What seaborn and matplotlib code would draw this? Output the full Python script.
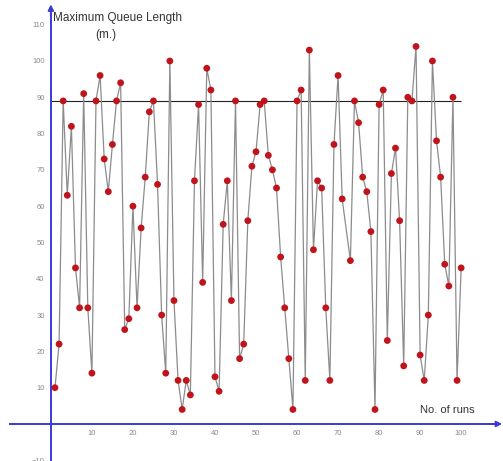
import matplotlib
matplotlib.use("Agg")
import matplotlib.pyplot as plt
import seaborn as sns

# run number (run 72 is not plotted in the source chart)
runs = [1, 2, 3, 4, 5, 6, 7, 8, 9, 10,
        11, 12, 13, 14, 15, 16, 17, 18, 19, 20,
        21, 22, 23, 24, 25, 26, 27, 28, 29, 30,
        31, 32, 33, 34, 35, 36, 37, 38, 39, 40,
        41, 42, 43, 44, 45, 46, 47, 48, 49, 50,
        51, 52, 53, 54, 55, 56, 57, 58, 59, 60,
        61, 62, 63, 64, 65, 66, 67, 68, 69, 70,
        71, 73, 74, 75, 76, 77, 78, 79, 80,
        81, 82, 83, 84, 85, 86, 87, 88, 89, 90,
        91, 92, 93, 94, 95, 96, 97, 98, 99, 100]

# maximum queue length (m.)
queue = [10, 22, 89, 63, 82, 43, 32, 91, 32, 14,
         89, 96, 73, 64, 77, 89, 94, 26, 29, 60,
         32, 54, 68, 86, 89, 66, 30, 14, 100, 34,
         12, 4, 12, 8, 67, 88, 39, 98, 92, 13,
         9, 55, 67, 34, 89, 18, 22, 56, 71, 75,
         88, 89, 74, 70, 65, 46, 32, 18, 4, 89,
         92, 12, 103, 48, 67, 65, 32, 12, 77, 96,
         62, 45, 89, 83, 68, 64, 53, 4, 88,
         92, 23, 69, 76, 56, 16, 90, 89, 104, 19,
         12, 30, 100, 78, 68, 44, 38, 90, 12, 43]

reference_level = 89
x_ticks = [10, 20, 30, 40, 50, 60, 70, 80, 90, 100]
y_ticks = [-10, 10, 20, 30, 40, 50, 60, 70, 80, 90, 100, 110]

sns.set_style("white")
plt.rcParams['font.family'] = ['Liberation Sans', 'DejaVu Sans']

axis_blue = '#3a3ad8'

fig = plt.figure(figsize=(5.03, 4.61), dpi=100)
ax = fig.add_axes([0, 0, 1, 1])

sns.lineplot(x=runs, y=queue, ax=ax, color='#8c8c8c', linewidth=0.9, zorder=2)
sns.scatterplot(x=runs, y=queue, ax=ax, color='#c0141c', s=24,
                edgecolor='none', zorder=3)
ax.hlines(reference_level, 0, 100, color='#222222', linewidth=0.8, zorder=1)

ax.set_xlim(-12.4, 110.2)
ax.set_ylim(-10.2, 116.8)

# axes crossing at the origin
for side in ['top', 'right']:
    ax.spines[side].set_visible(False)
ax.spines['left'].set_position(('data', 0))
ax.spines['bottom'].set_position(('data', 0))
ax.spines['left'].set_color(axis_blue)
ax.spines['bottom'].set_color(axis_blue)
ax.spines['left'].set_linewidth(1.4)
ax.spines['bottom'].set_linewidth(1.4)
ax.spines['bottom'].set_bounds(-10, 108)
ax.spines['left'].set_bounds(-10.2, 113)

ax.annotate('', xy=(110, 0), xytext=(107, 0),
            arrowprops=dict(arrowstyle='-|>', color=axis_blue, lw=1.4,
                            mutation_scale=8, shrinkA=0, shrinkB=0))
ax.annotate('', xy=(0, 115.6), xytext=(0, 112.5),
            arrowprops=dict(arrowstyle='-|>', color=axis_blue, lw=1.4,
                            mutation_scale=8, shrinkA=0, shrinkB=0))

ax.set_xticks(x_ticks)
ax.set_yticks(y_ticks)
ax.tick_params(axis='x', direction='inout', length=5, width=0.8,
               colors=axis_blue, labelcolor='#8a8a8a', labelsize=5.5, pad=2)
ax.tick_params(axis='y', direction='out', length=3, width=0.8,
               colors=axis_blue, labelcolor='#8a8a8a', labelsize=5.5, pad=1.5)
ax.set_xlabel('')
ax.set_ylabel('')

ax.text(0.4, 111.8, 'Maximum Queue Length', fontsize=8.5, color='#333333',
        ha='left', va='center')
ax.text(13.4, 107.2, '(m.)', fontsize=8.5, color='#333333',
        ha='center', va='center')
ax.text(90, 3.9, 'No. of runs', fontsize=8, color='#333333',
        ha='left', va='center')

fig.savefig('out.png', dpi=100, facecolor='white')
